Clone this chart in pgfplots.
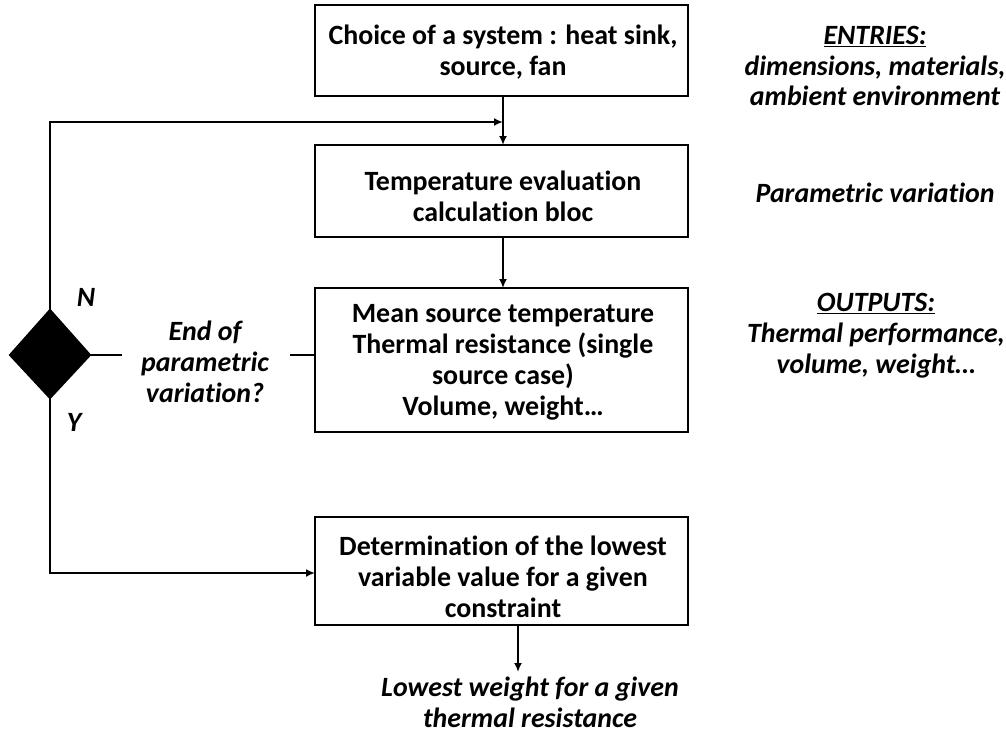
\documentclass[border=0pt]{standalone}
\usepackage{fontspec}
\setmainfont{Carlito}[Ligatures=NoCommon]
\usepackage{pgfplots}
\pgfplotsset{compat=1.18}
\usetikzlibrary{arrows.meta}
\begin{document}
\begin{tikzpicture}
\begin{axis}[
  width=1006bp, height=736bp, scale only axis,
  xmin=0, xmax=1006, ymin=0, ymax=736, y dir=reverse,
  axis lines=none, clip=false,
  cycle list={{black, line width=2bp, mark=none}},
  every axis plot post/.append style={black, line width=2bp, mark=none},
]
\coordinate (BBA) at (rel axis cs:0,0);
\coordinate (BBB) at (rel axis cs:1,1);
% boxes
\addplot coordinates {(315,5)(688,5)(688,96)(315,96)} --cycle;
\addplot coordinates {(315,145)(688,145)(688,237)(315,237)} --cycle;
\addplot coordinates {(315,288)(688,288)(688,432)(315,432)} --cycle;
\addplot coordinates {(315,517)(688,517)(688,625)(315,625)} --cycle;
% arrows down the middle
\addplot[-{Latex[length=9bp,width=8bp]}] coordinates {(503,96)(503,145)};
\addplot[-{Latex[length=9bp,width=8bp]}] coordinates {(503,237)(503,288)};
\addplot[-{Latex[length=9bp,width=8bp]}] coordinates {(518,625)(518,672)};
% loop
\addplot[-{Latex[length=9bp,width=8bp]}] coordinates {(50,310)(50,122)(503,122)};
\addplot[-{Latex[length=9bp,width=8bp]}] coordinates {(50,398)(50,573)(315,573)};
\addplot coordinates {(90,355)(122,355)};
\addplot coordinates {(290,355)(315,355)};
% diamond
\addplot[fill=black] coordinates {(10,355)(50,310)(90,355)(50,398)} --cycle;
% texts
\tikzset{t/.style={font=\fontsize{28}{31}\selectfont\bfseries, align=center, inner sep=0pt},
         ti/.style={t, font=\fontsize{28}{31}\selectfont\bfseries\itshape}}
\node[t] at (axis cs:503,52) {Choice of a system : heat sink,\\source, fan};
\node[t] at (axis cs:503,196) {Temperature evaluation\\calculation bloc};
\node[t] at (axis cs:503,362) {Mean source temperature\\Thermal resistance (single\\source case)\\Volume, weight\ldots};
\node[t] at (axis cs:503,577) {Determination of the lowest\\variable value for a given\\constraint};
\node[ti] at (axis cs:530,702) {Lowest weight for a given\\thermal resistance};
\node[ti] at (axis cs:205,362) {End of\\parametric\\variation?};
\node[ti] at (axis cs:86,297) {N};
\node[ti] at (axis cs:74,422) {Y};
\node[ti] at (axis cs:875,66) {\underline{ENTRIES:}\\dimensions, materials,\\ambient environment};
\node[ti] at (axis cs:875,193) {Parametric variation};
\node[ti] at (axis cs:876,336) {\underline{OUTPUTS:}\\Thermal performance,\\volume, weight\ldots};
\end{axis}
\pgfresetboundingbox
\path (BBA) rectangle (BBB);
\end{tikzpicture}
\end{document}
